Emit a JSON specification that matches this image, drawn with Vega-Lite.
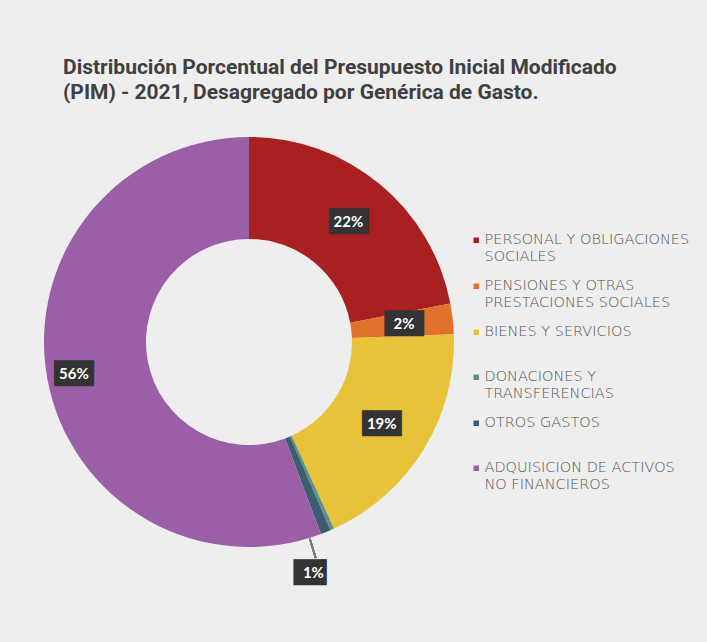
{
  "$schema": "https://vega.github.io/schema/vega-lite/v6.json",
  "autosize": "none",
  "width": 410,
  "height": 410,
  "padding": {"left": 44, "top": 137, "right": 253, "bottom": 95},
  "background": "#eeeeee",
  "title": {
    "text": ["Distribución Porcentual del Presupuesto Inicial Modificado", "(PIM) - 2021, Desagregado por Genérica de Gasto."],
    "anchor": "start",
    "frame": "group",
    "dx": 19,
    "offset": 34,
    "font": "Roboto, Liberation Sans, sans-serif",
    "fontSize": 21,
    "fontWeight": "bold",
    "color": "#404040",
    "lineHeight": 25
  },
  "data": {
    "values": [
      {"orden": 1, "cat": "PERSONAL Y OBLIGACIONES SOCIALES", "value": 0.220},
      {"orden": 2, "cat": "PENSIONES Y OTRAS PRESTACIONES SOCIALES", "value": 0.024},
      {"orden": 3, "cat": "BIENES Y SERVICIOS", "value": 0.188},
      {"orden": 4, "cat": "DONACIONES Y TRANSFERENCIAS", "value": 0.003},
      {"orden": 5, "cat": "OTROS GASTOS", "value": 0.008},
      {"orden": 6, "cat": "ADQUISICION DE ACTIVOS NO FINANCIEROS", "value": 0.557}
    ]
  },
  "encoding": {
    "theta": {"field": "value", "type": "quantitative", "stack": true},
    "order": {"field": "orden", "type": "quantitative"}
  },
  "layer": [
    {
      "mark": {"type": "arc", "outerRadius": 205, "innerRadius": 103},
      "encoding": {
        "color": {
          "field": "cat",
          "type": "nominal",
          "scale": {
            "domain": ["PERSONAL Y OBLIGACIONES SOCIALES", "PENSIONES Y OTRAS PRESTACIONES SOCIALES", "BIENES Y SERVICIOS", "DONACIONES Y TRANSFERENCIAS", "OTROS GASTOS", "ADQUISICION DE ACTIVOS NO FINANCIEROS"],
            "range": ["#A8201F", "#E0712A", "#E8C238", "#5B9487", "#3E5D70", "#9B5FA8"]
          },
          "legend": {
            "title": null,
            "orient": "none",
            "legendX": 425,
            "legendY": 81,
            "padding": 0,
            "symbolType": "square",
            "symbolSize": 30,
            "symbolStrokeWidth": 0,
            "labelFont": "DejaVu Sans",
            "labelFontWeight": 300,
            "labelFontSize": 14.5,
            "labelColor": "#555555",
            "labelOffset": 1,
            "labelLimit": 300,
            "clipHeight": 44.5,
            "rowPadding": 0,
            "labelExpr": "datum.label == 'PERSONAL Y OBLIGACIONES SOCIALES' ? ['PERSONAL Y OBLIGACIONES', 'SOCIALES'] : datum.label == 'PENSIONES Y OTRAS PRESTACIONES SOCIALES' ? ['PENSIONES Y OTRAS', 'PRESTACIONES SOCIALES'] : datum.label == 'DONACIONES Y TRANSFERENCIAS' ? ['DONACIONES Y', 'TRANSFERENCIAS'] : datum.label == 'ADQUISICION DE ACTIVOS NO FINANCIEROS' ? ['ADQUISICION DE ACTIVOS', 'NO FINANCIEROS'] : datum.label"
          }
        }
      }
    },
    {
      "mark": {"type": "arc", "outerRadius": 226, "innerRadius": 206, "color": "#7a7a7a"},
      "encoding": {
        "theta": {"value": 2.838},
        "theta2": {"value": 2.846}
      }
    },
    {
      "mark": {"type": "text", "radius": 156, "font": "DejaVu Sans Mono", "fontSize": 22, "color": "#333333", "baseline": "middle", "align": "center"},
      "encoding": {
        "text": {"condition": {"test": "datum.orden <= 3", "value": "███"}, "value": ""}
      }
    },
    {
      "mark": {"type": "text", "radius": 156, "font": "Lato", "fontWeight": "bold", "fontSize": 15, "color": "#ffffff", "baseline": "middle", "align": "center"},
      "encoding": {
        "text": {"condition": {"test": "datum.orden <= 3", "field": "value", "type": "quantitative", "format": ".0%"}, "value": ""}
      }
    },
    {
      "mark": {"type": "text", "radius": 178, "font": "DejaVu Sans Mono", "fontSize": 22, "color": "#333333", "baseline": "middle", "align": "center"},
      "encoding": {
        "text": {"condition": {"test": "datum.orden == 6", "value": "███"}, "value": ""}
      }
    },
    {
      "mark": {"type": "text", "radius": 178, "font": "Lato", "fontWeight": "bold", "fontSize": 15, "color": "#ffffff", "baseline": "middle", "align": "center"},
      "encoding": {
        "text": {"condition": {"test": "datum.orden == 6", "field": "value", "type": "quantitative", "format": ".0%"}, "value": ""}
      }
    },
    {
      "mark": {"type": "text", "radius": 239, "dx": -25, "dy": 9, "font": "DejaVu Sans Mono", "fontSize": 22, "color": "#333333", "baseline": "middle", "align": "center"},
      "encoding": {
        "text": {"condition": {"test": "datum.orden == 5", "value": "██▌"}, "value": ""}
      }
    },
    {
      "mark": {"type": "text", "radius": 239, "dx": -25, "dy": 9, "font": "Lato", "fontWeight": "bold", "fontSize": 15, "color": "#ffffff", "baseline": "middle", "align": "center"},
      "encoding": {
        "text": {"condition": {"test": "datum.orden == 5", "field": "value", "type": "quantitative", "format": ".0%"}, "value": ""}
      }
    }
  ],
  "config": {"view": {"stroke": null}}
}
